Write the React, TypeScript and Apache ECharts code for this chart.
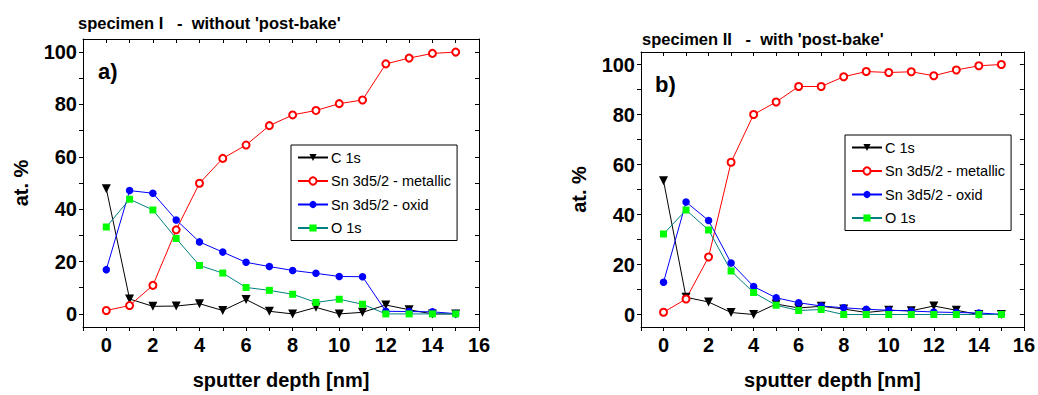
import { useEffect, useRef } from "react";
import * as echarts from "echarts";

const depth = [0, 1, 2, 3, 4, 5, 6, 7, 8, 9, 10, 11, 12, 13, 14, 15];
const xTickLabels = [0, 2, 4, 6, 8, 10, 12, 14, 16];
const xTicks = [-1, 0, 1, 2, 3, 4, 5, 6, 7, 8, 9, 10, 11, 12, 13, 14, 15, 16];
const yTickLabels = [0, 20, 40, 60, 80, 100];
const yTicks = [0, 10, 20, 30, 40, 50, 60, 70, 80, 90, 100];
const seriesNames = ["C 1s", "Sn 3d5/2 - metallic", "Sn 3d5/2 - oxid", "O 1s"];

// specimen I
const c1sA = [47.8, 5.7, 2.9, 3.0, 3.9, 1.3, 5.5, 1.0, 0, 2.5, 0, 0.6, 3.4, 1.6, 0, 0];
const metallicA = [1.3, 3.2, 10.9, 32.1, 49.9, 59.4, 64.5, 71.9, 76.0, 77.7, 80.3, 81.7, 95.5, 97.7, 99.5, 100];
const oxidA = [16.9, 47.1, 46.1, 35.9, 27.5, 23.6, 19.7, 18.1, 16.6, 15.5, 14.3, 14.2, 1.0, 0.9, 0.8, 0.1];
const o1sA = [33.2, 43.8, 39.7, 28.8, 18.5, 15.6, 10.1, 9.0, 7.5, 4.4, 5.6, 3.7, 0, 0, 0, 0];

// specimen II
const c1sB = [53.5, 6.9, 5.0, 0.8, 0, 4.2, 2.6, 3.3, 2.2, 0.8, 1.7, 1.5, 3.4, 1.7, 0, 0];
const metallicB = [0.9, 6.2, 23.0, 60.9, 80.0, 85.0, 91.2, 91.2, 95.1, 97.2, 96.8, 97.1, 95.5, 97.8, 99.5, 100];
const oxidB = [12.9, 45.0, 37.6, 20.6, 11.2, 6.7, 4.7, 3.4, 2.7, 2.1, 1.7, 1.4, 1.0, 0.8, 0.6, 0.1];
const o1sB = [32.2, 41.8, 33.8, 17.4, 8.8, 3.7, 1.6, 2.0, 0, 0, 0, 0, 0, 0, 0, 0];

const titles = ["specimen I   -  without 'post-bake'", "specimen II   -  with 'post-bake'"];
const panelLabels = ["a)", "b)"];
const xName = "sputter depth [nm]";
const yName = "at. %";

const FONT = "Arial, 'Liberation Sans', sans-serif";

const pairs = (ys: number[]) => depth.map((x, i) => [x, ys[i]]);

export default function App() {
  const ref = useRef<HTMLDivElement>(null);
  useEffect(() => {
    if (!ref.current) return;
    const chart = echarts.init(ref.current, undefined, { renderer: "svg" });

    const grids = [
      { left: 83, top: 39, width: 396, height: 289 },
      { left: 641, top: 52, width: 387, height: 279 },
    ];

    const xAxes: any[] = [];
    const yAxes: any[] = [];
    grids.forEach((_, g) => {
      xAxes.push({
        gridIndex: g,
        type: "value",
        min: -1,
        max: 16,
        position: "bottom",
        axisLine: { show: true, onZero: false, lineStyle: { color: "#000", width: 1 } },
        axisTick: { show: true, inside: false, length: 4, customValues: xTicks, lineStyle: { color: "#000" } },
        axisLabel: {
          show: true,
          customValues: xTickLabels,
          fontSize: 20,
          fontWeight: "bold",
          color: "#000",
          fontFamily: FONT,
          margin: 8,
        },
        splitLine: { show: false },
        name: xName,
        nameLocation: "middle",
        nameGap: 43,
        nameTextStyle: { fontSize: 20, fontWeight: "bold", color: "#000", fontFamily: FONT },
      });
      xAxes.push({
        gridIndex: g,
        type: "value",
        min: -1,
        max: 16,
        position: "top",
        axisLine: { show: true, onZero: false, lineStyle: { color: "#000", width: 1 } },
        axisTick: { show: true, inside: true, length: 4, customValues: xTicks, lineStyle: { color: "#000" } },
        axisLabel: { show: false },
        splitLine: { show: false },
      });
      yAxes.push({
        gridIndex: g,
        type: "value",
        min: -5,
        max: 105,
        position: "left",
        axisLine: { show: true, onZero: false, lineStyle: { color: "#000", width: 1 } },
        axisTick: { show: true, inside: false, length: 4, customValues: yTicks, lineStyle: { color: "#000" } },
        axisLabel: {
          show: true,
          customValues: yTickLabels,
          fontSize: 20,
          fontWeight: "bold",
          color: "#000",
          fontFamily: FONT,
          margin: 6,
        },
        splitLine: { show: false },
        name: yName,
        nameLocation: "middle",
        nameGap: 52,
        nameTextStyle: { fontSize: 20, fontWeight: "bold", color: "#000", fontFamily: FONT },
      });
      yAxes.push({
        gridIndex: g,
        type: "value",
        min: -5,
        max: 105,
        position: "right",
        axisLine: { show: true, onZero: false, lineStyle: { color: "#000", width: 1 } },
        axisTick: { show: true, inside: true, length: 4, customValues: yTicks, lineStyle: { color: "#000" } },
        axisLabel: { show: false },
        splitLine: { show: false },
      });
    });

    const makeSeries = (g: number, c: number[], m: number[], o: number[], s: number[]) => [
      {
        name: seriesNames[0],
        type: "line",
        xAxisIndex: g * 2,
        yAxisIndex: g * 2,
        data: pairs(c),
        symbol: "triangle",
        symbolRotate: 180,
        symbolSize: 9,
        itemStyle: { color: "#000" },
        lineStyle: { color: "#000", width: 1 },
      },
      {
        name: seriesNames[1],
        type: "line",
        xAxisIndex: g * 2,
        yAxisIndex: g * 2,
        data: pairs(m),
        symbol: "emptyCircle",
        symbolSize: 7,
        itemStyle: { color: "#ff0000", borderColor: "#ff0000", borderWidth: 1 },
        lineStyle: { color: "#ff0000", width: 1 },
      },
      {
        name: seriesNames[2],
        type: "line",
        xAxisIndex: g * 2,
        yAxisIndex: g * 2,
        data: pairs(o),
        symbol: "circle",
        symbolSize: 7.5,
        itemStyle: { color: "#0000ff" },
        lineStyle: { color: "#0000ff", width: 1 },
      },
      {
        name: seriesNames[3],
        type: "line",
        xAxisIndex: g * 2,
        yAxisIndex: g * 2,
        data: pairs(s),
        symbol: "rect",
        symbolSize: 7,
        itemStyle: { color: "#00ff00" },
        lineStyle: { color: "#008080", width: 1 },
      },
    ];

    const legendCommon = {
      orient: "vertical",
      data: seriesNames,
      itemWidth: 30,
      itemHeight: 9,
      itemGap: 8.5,
      padding: [5, 6, 5, 6],
      borderColor: "#000",
      borderWidth: 1,
      backgroundColor: "#fff",
      textStyle: { fontSize: 14.5, color: "#000", fontFamily: FONT, padding: [0, 0, 0, -2] },
      selectedMode: false,
    };

    chart.setOption({
      animation: false,
      backgroundColor: "#fff",
      title: [
        { text: titles[0], left: 78, top: 14, textStyle: { fontSize: 16.5, fontWeight: "bold", color: "#000", fontFamily: FONT }, padding: 0 },
        { text: titles[1], left: 642, top: 30, textStyle: { fontSize: 16.5, fontWeight: "bold", color: "#000", fontFamily: FONT }, padding: 0 },
      ],
      graphic: [
        { type: "text", left: 98, top: 60, style: { text: panelLabels[0], font: `bold 22px ${FONT}`, fill: "#000" } },
        { type: "text", left: 655, top: 73, style: { text: panelLabels[1], font: `bold 22px ${FONT}`, fill: "#000" } },
      ],
      legend: [
        { ...legendCommon, left: 291, top: 145 },
        { ...legendCommon, left: 845, top: 135 },
      ],
      grid: grids,
      xAxis: xAxes,
      yAxis: yAxes,
      series: [...makeSeries(0, c1sA, metallicA, oxidA, o1sA), ...makeSeries(1, c1sB, metallicB, oxidB, o1sB)],
    });

    return () => chart.dispose();
  }, []);

  return <div ref={ref} style={{ position: "absolute", left: 0, top: 0, width: 1038, height: 395 }} />;
}
